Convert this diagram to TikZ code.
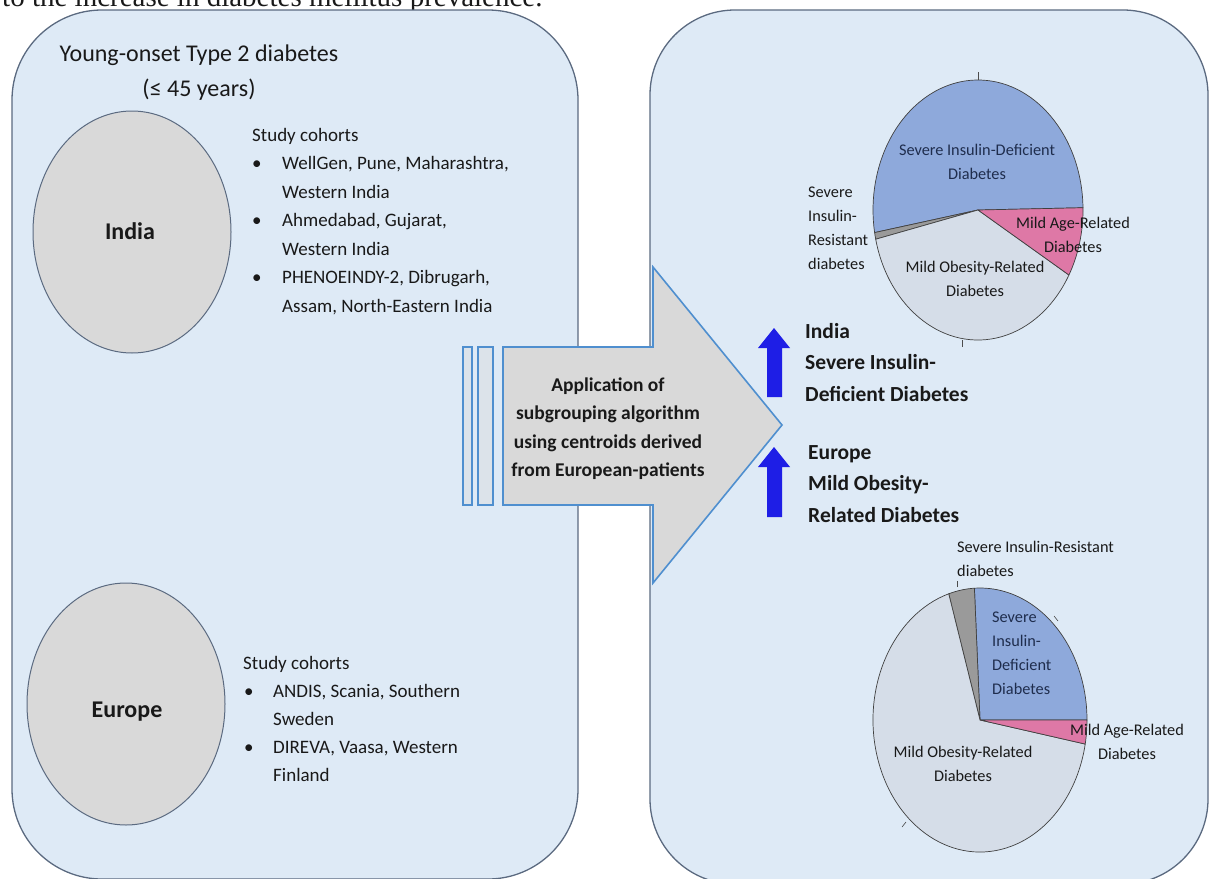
\documentclass[tikz,border=0pt]{standalone}
\usepackage{fontspec}
\setmainfont{Carlito}
\newfontfamily\pageserif{Liberation Serif}
\usetikzlibrary{shapes.geometric}

\definecolor{panelfill}{HTML}{DEEAF6}
\definecolor{panelline}{HTML}{5B6A80}
\definecolor{cohortgrey}{HTML}{D9D9D9}
\definecolor{arrowline}{HTML}{4F8FCF}
\definecolor{upblue}{HTML}{1E1EE6}
\definecolor{siddblue}{HTML}{8EA9DB}
\definecolor{mordgrey}{HTML}{D5DDE8}
\definecolor{sirdgrey}{HTML}{9A9A9A}
\definecolor{mardpink}{HTML}{DE78A6}
\definecolor{labelnavy}{HTML}{1F2D4D}

\newcommand{\lines}[2]{\begin{tabular}[t]{@{}#1@{}}#2\end{tabular}}
% centre, x radius, y radius, start angle, end angle, colour
\newcommand{\pieslice}[6]{%
  \filldraw[slice, fill=#6] (#1) -- ++(#4:#2 and #3) arc[start angle=#4, end angle=#5, x radius=#2, y radius=#3] -- cycle;}

\begin{document}
\begin{tikzpicture}[x=1pt,y=-1pt,
  every node/.style={inner sep=0pt, text=black!90},
  panel/.style={draw=panelline, fill=panelfill, line width=1.3pt, rounded corners=90pt},
  region/.style={ellipse, draw=panelline, fill=cohortgrey, line width=1pt, minimum width=198pt, minimum height=242pt},
  regiontext/.style={font=\bfseries\fontsize{24}{28}\selectfont},
  cohorts/.style={anchor=base west, font=\fontsize{19}{28.5}\selectfont},
  stripe/.style={draw=arrowline, fill=panelfill!60!cohortgrey, line width=1.2pt},
  slice/.style={draw=black!75, line width=0.7pt, line join=round},
  slicetext/.style={font=\fontsize{16.3}{24}\selectfont, anchor=base},
  tick/.style={draw=black!70, line width=0.6pt},
  verdict/.style={anchor=base west, font=\bfseries\fontsize{21.5}{31.5}\selectfont},
]
\useasboundingbox (0,0) rectangle (1209,878);

\node[anchor=base west, font=\pageserif\fontsize{29}{29}\selectfont] (prevline) at (2,6) {to the increase in diabetes mellitus prevalence.};

\draw[panel] (12,10) rectangle (578,879);
\draw[panel, rounded corners=85pt] (650,10) rectangle (1208,884);

\node[anchor=base, font=\fontsize{24}{35}\selectfont] (title) at (199,61) {\lines{c}{Young-onset Type 2 diabetes\\(≤ 45 years)}};

\node[region] (india) at (132,232) {};
\node[regiontext] (indiatext) at (130,231) {India};
\node[region] (europe) at (126,704) {};
\node[regiontext] (europetext) at (127,712) {Europe};

\node[cohorts] (indiacohorts) at (252,141) {\begin{tabular}[t]{@{\hspace{0pt}}p{30pt}@{}l@{}}
  \multicolumn{2}{@{}l@{}}{Study cohorts}\\
  \textbullet & WellGen, Pune, Maharashtra,\\
              & Western India\\
  \textbullet & Ahmedabad, Gujarat,\\
              & Western India\\
  \textbullet & PHENOEINDY-2, Dibrugarh,\\
              & Assam, North-Eastern India
\end{tabular}};
\node[cohorts, font=\fontsize{19}{28}\selectfont] (europecohorts) at (243,669) {\begin{tabular}[t]{@{\hspace{1pt}}p{29pt}@{}l@{}}
  \multicolumn{2}{@{}l@{}}{Study cohorts}\\
  \textbullet & ANDIS, Scania, Southern\\
              & Sweden\\
  \textbullet & DIREVA, Vaasa, Western\\
              & Finland
\end{tabular}};

\foreach \xa/\xb in {463/472, 478/493}
  \filldraw[stripe] (\xa,347) rectangle (\xb,505);
\filldraw[fill=cohortgrey, draw=arrowline, line width=1.6pt] (503,347) -- (653,347) -- (653,267) -- (782,425) -- (653,583) -- (653,505) -- (503,505) -- cycle;
\node[anchor=base, font=\bfseries\fontsize{19.5}{28.5}\selectfont] (method) at (608,391) {\lines{c}{Application of\\subgrouping algorithm\\using centroids derived\\from European-patients}};

\foreach \tip/\tail in {328/397, 447/517}
  \fill[upblue] (767,\tail) -- (767,\tip+20) -- (758,\tip+20) -- (774,\tip) -- (790,\tip+20) -- (782,\tip+20) -- (782,\tail) -- cycle;
\node[verdict] (indiaresult) at (805,338) {\lines{l}{India\\Severe Insulin-\\Deficient Diabetes}};
\node[verdict] (europeresult) at (808,459) {\lines{l}{Europe\\Mild Obesity-\\Related Diabetes}};

% India pie
\coordinate (indiapie) at (978,210);
\pieslice{indiapie}{105}{130}{-1}{-190}{siddblue}
\pieslice{indiapie}{105}{130}{-190}{-193}{sirdgrey}
\pieslice{indiapie}{105}{130}{-193}{-330}{mordgrey}
\pieslice{indiapie}{105}{130}{-330}{-361}{mardpink}
\draw[tick] (978,80) -- (978,72);
\draw[tick] (962,340) -- (962,347);
\node[slicetext, text=labelnavy] (indiasidd) at (977,155) {\lines{c}{Severe Insulin-Deficient\\Diabetes}};
\node[slicetext, anchor=base west] (indiasird) at (808,197) {\lines{l}{Severe\\Insulin-\\Resistant\\diabetes}};
\node[slicetext] (indiamard) at (1073,228) {\lines{c}{Mild Age-Related\\Diabetes}};
\node[slicetext] (indiamord) at (975,272) {\lines{c}{Mild Obesity-Related\\Diabetes}};

% Europe pie
\coordinate (europepie) at (980,720);
\pieslice{europepie}{107}{132}{0}{-93}{siddblue}
\pieslice{europepie}{107}{132}{-93}{-107}{sirdgrey}
\pieslice{europepie}{107}{132}{-107}{-349.5}{mordgrey}
\pieslice{europepie}{107}{132}{-349.5}{-360}{mardpink}
\draw[tick] (957,587) -- (957,581);
\draw[tick] (1054,616) -- (1058,621);
\draw[tick] (906,822) -- (902,827);
\node[slicetext, anchor=base west] (europesird) at (957,552) {\lines{l}{Severe Insulin-Resistant\\diabetes}};
\node[slicetext, anchor=base west, text=labelnavy] (europesidd) at (992,622) {\lines{l}{Severe\\Insulin-\\Deficient\\Diabetes}};
\node[slicetext] (europemard) at (1127,735) {\lines{c}{Mild Age-Related\\Diabetes}};
\node[slicetext] (europemord) at (963,757) {\lines{c}{Mild Obesity-Related\\Diabetes}};
\end{tikzpicture}
\end{document}
